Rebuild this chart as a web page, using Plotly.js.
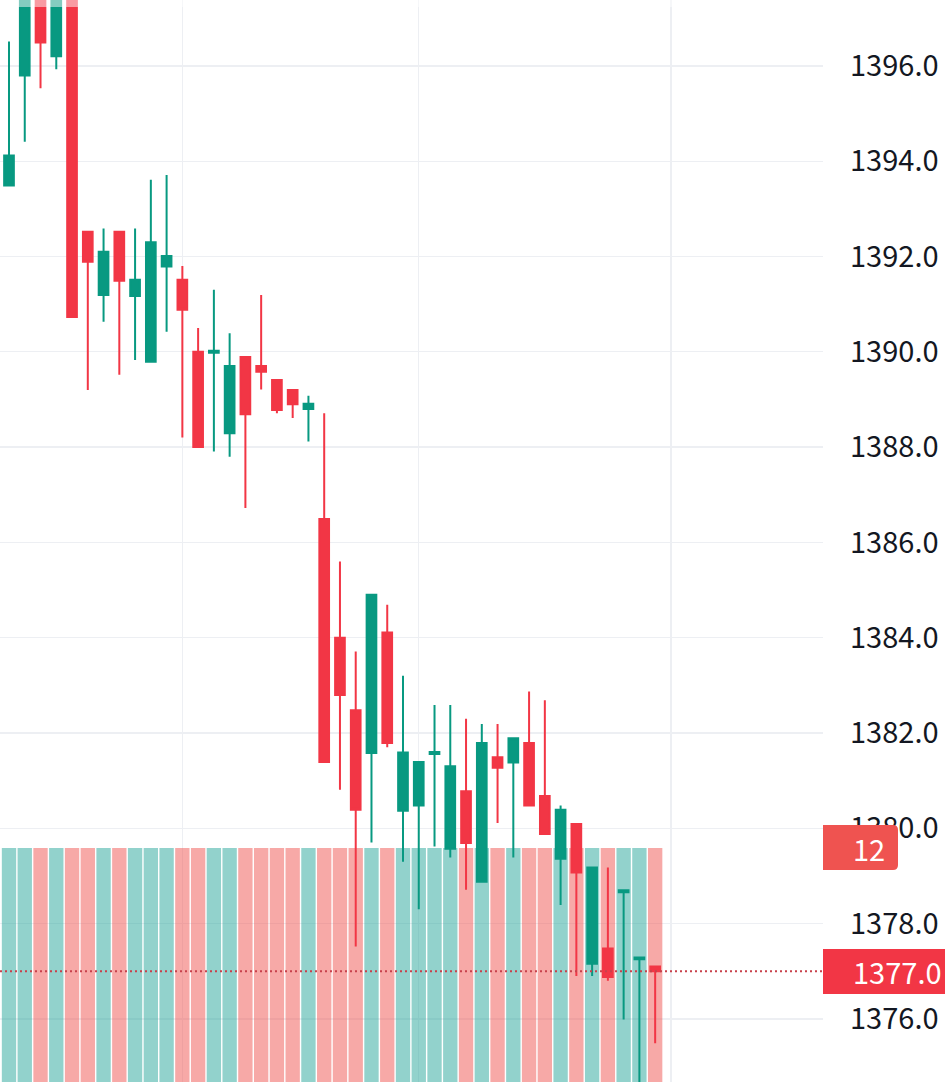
<!DOCTYPE html>
<html><head><meta charset="utf-8">
<script src="https://cdn.plot.ly/plotly-3.0.1.min.js"></script>
<style>html,body{margin:0;padding:0;background:#fff;}#chart{width:945px;height:1082px;}</style>
</head><body><div id="chart"></div>
<script>
// Candle index (bar number on the time axis)
const barIndex = [0,1,2,3,4,5,6,7,8,9,10,11,12,13,14,15,16,17,18,19,20,21,22,23,24,25,26,27,28,29,30,31,32,33,34,35,36,37,38,39,40,41];
const openP  = [1393.49,1395.80,1397.70,1396.20,1397.60,1392.52,1391.19,1392.52,1391.17,1389.79,1391.79,1391.51,1390.00,1389.98,1388.29,1389.89,1389.70,1389.41,1389.20,1388.80,1386.49,1384.00,1382.48,1381.58,1384.11,1380.37,1380.48,1381.56,1379.57,1380.78,1378.88,1381.49,1381.38,1381.79,1380.68,1379.36,1380.09,1377.16,1377.48,1378.66,1377.25,1377.10];
const highP  = [1396.51,1397.80,1397.90,1397.80,1397.90,1392.52,1392.59,1392.52,1392.59,1393.61,1393.71,1391.80,1390.50,1391.30,1390.39,1389.89,1391.19,1389.41,1389.20,1389.08,1388.71,1385.60,1383.71,1384.90,1384.69,1383.20,1381.39,1382.59,1382.59,1382.30,1382.19,1382.19,1381.89,1382.87,1382.69,1380.48,1380.09,1379.18,1379.18,1378.72,1377.29,1377.10];
const lowP   = [1393.49,1394.41,1395.53,1395.93,1390.73,1389.20,1390.63,1389.52,1389.83,1389.79,1390.42,1388.20,1388.00,1387.91,1387.80,1386.72,1389.21,1388.71,1388.61,1388.12,1381.39,1380.81,1377.52,1379.70,1381.70,1379.30,1378.30,1379.62,1379.39,1378.71,1378.88,1380.11,1379.39,1380.48,1379.88,1378.39,1376.90,1376.90,1376.80,1375.99,1374.40,1375.49];
const closeP = [1394.12,1397.60,1396.49,1397.60,1390.73,1391.89,1392.10,1391.49,1391.51,1392.30,1392.01,1390.88,1388.00,1390.02,1389.70,1388.69,1389.58,1388.78,1388.90,1388.91,1381.39,1382.80,1380.39,1384.90,1381.79,1381.59,1381.39,1381.60,1381.30,1379.69,1381.79,1381.27,1381.89,1380.48,1379.88,1380.39,1379.07,1379.18,1376.88,1378.70,1377.29,1377.00];
const volume = [12,12,12,12,12,12,12,12,12,12,12,12,12,12,12,12,12,12,12,12,12,12,12,12,12,12,12,12,12,12,12,12,12,12,12,12,12,12,12,12,12,12];
const priceTicks = [1376,1378,1380,1382,1384,1386,1388,1390,1392,1394,1396];
const lastPriceLabel = '1377.0';
const lastVolumeLabel = '12';

const UP = '#089981', DOWN = '#F23645';
const volColors = closeP.map((c, i) => c >= openP[i] ? 'rgba(38,166,154,0.5)' : 'rgba(239,83,80,0.5)');

const FONT = '"Noto Sans CJK SC", "Noto Sans", sans-serif';
const W = 823, H = 1082;
const X = px => px / W;
const Y = py => (H - py) / H;

function roundRightRect(x0, y0, x1, y1, r) {
  return `M ${X(x0)},${Y(y0)} L ${X(x1 - r)},${Y(y0)} Q ${X(x1)},${Y(y0)} ${X(x1)},${Y(y0 + r)} ` +
         `L ${X(x1)},${Y(y1 - r)} Q ${X(x1)},${Y(y1)} ${X(x1 - r)},${Y(y1)} L ${X(x0)},${Y(y1)} Z`;
}

const volTrace = {
  type: 'bar', x: barIndex, y: volume, xaxis: 'x', yaxis: 'y',
  marker: { color: volColors, line: { width: 0 } }, hoverinfo: 'skip'
};
const candleTrace = {
  type: 'candlestick', x: barIndex, open: openP, high: highP, low: lowP, close: closeP,
  xaxis: 'x', yaxis: 'y2',
  increasing: { line: { color: UP, width: 2 }, fillcolor: UP },
  decreasing: { line: { color: DOWN, width: 2 }, fillcolor: DOWN },
  whiskerwidth: 0, hoverinfo: 'skip'
};

const layout = {
  width: 945, height: 1082,
  margin: { l: 0, r: 122, t: 0, b: 0, pad: 0 },
  paper_bgcolor: '#ffffff', plot_bgcolor: '#ffffff',
  showlegend: false, dragmode: false,
  bargap: 0.09, boxgap: 0.385, boxgroupgap: 0,
  xaxis: {
    range: [-0.571, 51.65], tickvals: [11, 26, 42], showticklabels: false,
    showgrid: true, gridcolor: '#EDEFF3', gridwidth: 1.3, zeroline: false, showline: false,
    ticks: '', rangeslider: { visible: false }, fixedrange: true
  },
  yaxis: { range: [0, 55.49], visible: false, showgrid: false, zeroline: false, fixedrange: true },
  yaxis2: {
    overlaying: 'y', side: 'right', range: [1374.676, 1397.383],
    tickvals: priceTicks, tickformat: '.1f',
    showgrid: true, gridcolor: '#EDEFF3', gridwidth: 1.3, zeroline: false, showline: false,
    ticks: '', ticklabelstandoff: 26,
    tickfont: { family: FONT, size: 29, color: '#131722' }, fixedrange: true
  },
  shapes: [
    { type: 'rect', xref: 'paper', yref: 'paper', x0: 0, x1: 1, y0: Y(7), y1: 1,
      fillcolor: 'rgba(255,255,255,0.5)', line: { width: 0 }, layer: 'above' },
    { type: 'line', xref: 'paper', yref: 'y2', x0: 0, x1: 1, y0: 1377.0, y1: 1377.0,
      line: { color: '#C8414B', width: 2, dash: '2px,3px' }, layer: 'above' },
    { type: 'path', xref: 'paper', yref: 'paper', path: roundRightRect(823, 825, 898, 870, 5),
      fillcolor: '#EF5350', line: { width: 0 }, layer: 'above' },
    { type: 'rect', xref: 'paper', yref: 'paper', x0: X(823), x1: X(945), y0: Y(949), y1: Y(994),
      fillcolor: '#F23645', line: { width: 0 }, layer: 'above' }
  ],
  annotations: [
    { xref: 'paper', yref: 'paper', x: X(851), y: Y(848), xanchor: 'left', yanchor: 'middle',
      text: lastVolumeLabel, showarrow: false, font: { family: FONT, size: 29, color: '#ffffff' } },
    { xref: 'paper', yref: 'y2', x: X(851), y: 1377.0, xanchor: 'left', yanchor: 'middle',
      text: lastPriceLabel, showarrow: false, font: { family: FONT, size: 29, color: '#ffffff' } }
  ]
};

Plotly.newPlot('chart', [volTrace, candleTrace], layout, { displayModeBar: false, staticPlot: true });
</script>
</body></html>
